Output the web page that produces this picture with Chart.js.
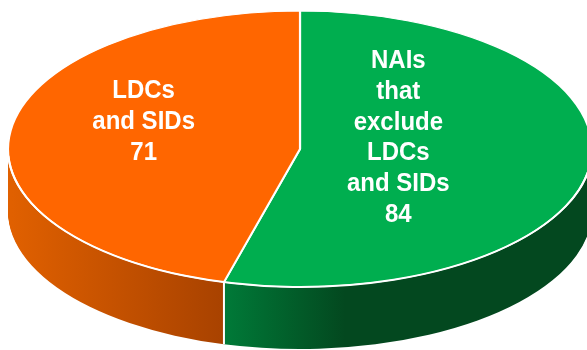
<!DOCTYPE html>
<html>
<head>
<meta charset="utf-8">
<script src="https://cdn.jsdelivr.net/npm/chart.js@4"></script>
<style>
html, body { margin: 0; padding: 0; background: #fff; }
#wrap { width: 587px; height: 350px; }
</style>
</head>
<body>
<div id="wrap"><canvas id="pie"></canvas></div>
<script>
const categories = ['NAIs\nthat\nexclude\nLDCs\nand SIDs', 'LDCs\nand SIDs'];
const values = [84, 71];

const topColors = ['#00ae4f', '#ff6600'];
// side colour ramps, [screen x, colour]
const sideRamps = [
	[[224, '#007a38'], [345, '#03481f']],
	[[12, '#e06000'], [224, '#a84200']]
];

// the tilted disc as it sits on the page
const disc = { x: 300, y: 149, rx: 292, ry: 138, depth: 62 };
// where the slices seem to meet, used to park the labels
const apex = { x: 271, y: 130 };

function circleX(el, x) {
	return el.x + (x - disc.x) * el.outerRadius / disc.rx;
}

const disc3d = {
	id: 'disc3d',
	beforeDatasetsDraw(chart) {
		const ctx = chart.ctx;
		const arcs = chart.getDatasetMeta(0).data;
		const R = arcs[0].outerRadius;
		const squash = (dy) => {
			ctx.translate(disc.x, disc.y + dy);
			ctx.scale(disc.rx / R, disc.ry / R);
			ctx.translate(-arcs[0].x, -arcs[0].y);
		};

		const fills = arcs.map((el, i) => {
			const ramp = sideRamps[i];
			const g = ctx.createLinearGradient(circleX(el, ramp[0][0]), 0, circleX(el, ramp[1][0]), 0);
			g.addColorStop(0, ramp[0][1]);
			g.addColorStop(1, ramp[1][1]);
			return g;
		});

		for (let d = disc.depth; d > 0; d--) {
			arcs.forEach((el, i) => {
				ctx.save();
				squash(d);
				const saved = el.options;
				el.options = Object.assign({}, saved, { backgroundColor: fills[i], borderWidth: 0 });
				el.draw(ctx);
				el.options = saved;
				ctx.restore();
			});
		}

		ctx.save();
		squash(0);
	},
	afterDatasetsDraw(chart) {
		const ctx = chart.ctx;
		ctx.restore();
		const arcs = chart.getDatasetMeta(0).data;

		// white rim along the front edge of the top face
		ctx.save();
		ctx.strokeStyle = '#ffffff';
		ctx.lineWidth = 2;
		ctx.beginPath();
		ctx.ellipse(disc.x, disc.y, disc.rx, disc.ry, 0, 0.05, Math.PI - 0.05);
		ctx.stroke();
		ctx.restore();

		// seam between the slices on the front wall
		arcs.forEach(el => {
			const a = el.endAngle;
			if (Math.sin(a) <= 0) return;
			const sx = disc.x + disc.rx * Math.cos(a);
			const sy = disc.y + disc.ry * Math.sin(a);
			ctx.save();
			ctx.strokeStyle = '#ffffff';
			ctx.lineWidth = 2;
			ctx.beginPath();
			ctx.moveTo(sx, sy);
			ctx.lineTo(sx, sy + disc.depth);
			ctx.stroke();
			ctx.restore();
		});

		// labels
		ctx.save();
		ctx.fillStyle = '#ffffff';
		ctx.font = 'bold 24px "Liberation Sans", Arial, sans-serif';
		ctx.textAlign = 'center';
		ctx.textBaseline = 'middle';
		arcs.forEach((el, i) => {
			const mid = (el.startAngle + el.endAngle) / 2;
			const lx = apex.x + 0.44 * disc.rx * Math.cos(mid);
			const ly = apex.y + 0.44 * disc.ry * Math.sin(mid);
			const lines = categories[i].split('\n').concat(String(values[i]));
			const lh = 30.7;
			lines.forEach((t, k) => {
				const ty = ly + (k - (lines.length - 1) / 2) * lh;
				ctx.save();
				ctx.translate(lx, ty);
				ctx.scale(1, 1.07);
				ctx.fillText(t, 0, 0);
				ctx.restore();
			});
		});
		ctx.restore();
	}
};

new Chart(document.getElementById('pie'), {
	type: 'pie',
	data: {
		labels: categories,
		datasets: [{
			data: values,
			backgroundColor: topColors,
			borderColor: '#ffffff',
			borderWidth: 1.3,
			clip: false
		}]
	},
	options: {
		responsive: true,
		maintainAspectRatio: false,
		animation: false,
		events: [],
		rotation: 0,
		layout: { padding: 0 },
		plugins: {
			legend: { display: false },
			tooltip: { enabled: false }
		}
	},
	plugins: [disc3d]
});
</script>
</body>
</html>
